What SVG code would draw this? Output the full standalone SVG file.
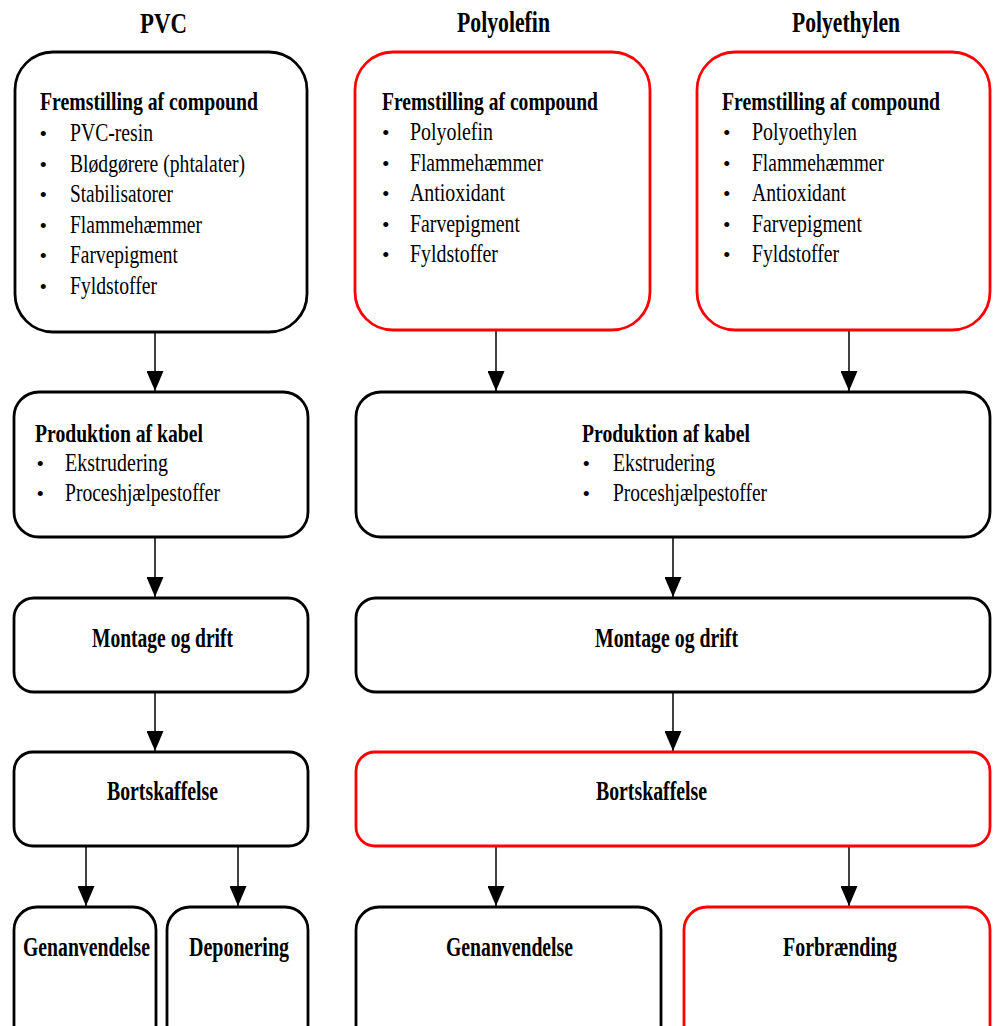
<svg xmlns="http://www.w3.org/2000/svg" width="993" height="1026" viewBox="0 0 993 1026">
  <style>
    text { font-family: "Liberation Serif", "Times New Roman", serif; fill: #000; }
    .title { font-size: 29px; font-weight: bold; }
    .head { font-size: 26px; font-weight: bold; }
    .label { font-size: 27px; font-weight: bold; }
    .item { font-size: 25px; }
    .bullet { font-size: 21.5px; }
    .box { fill: #fff; stroke: #000; stroke-width: 2.8; }
    .red { stroke: #ff0000; }
    .link { stroke: #000; stroke-width: 1.5; fill: none; marker-end: url(#arrow); }
  </style>
  <defs>
    <!-- solid triangular arrowhead, tip at the end of the line -->
    <marker id="arrow" markerUnits="userSpaceOnUse" markerWidth="20" markerHeight="17" viewBox="0 0 20 17" refX="20" refY="8.5" orient="auto">
      <path d="M0,0 L20,8.5 L0,17 Z" fill="#000"/>
    </marker>
  </defs>
  <rect width="993" height="1026" fill="#fff"/>

  <!-- column headings -->
  <g id="headings">
    <text class="title" x="140" y="33" textLength="47" lengthAdjust="spacingAndGlyphs">PVC</text>
    <text class="title" x="457" y="32" textLength="93" lengthAdjust="spacingAndGlyphs">Polyolefin</text>
    <text class="title" x="792" y="32" textLength="108" lengthAdjust="spacingAndGlyphs">Polyethylen</text>
  </g>

  <!-- connectors -->
  <g id="connectors">
    <line class="link" x1="155" y1="333" x2="155" y2="391"/>
    <line class="link" x1="496" y1="331" x2="496" y2="391"/>
    <line class="link" x1="849" y1="331" x2="849" y2="391"/>
    <line class="link" x1="155" y1="538" x2="155" y2="597"/>
    <line class="link" x1="673" y1="538" x2="673" y2="597"/>
    <line class="link" x1="155" y1="693" x2="155" y2="751"/>
    <line class="link" x1="673" y1="693" x2="673" y2="751"/>
    <line class="link" x1="86" y1="847" x2="86" y2="906"/>
    <line class="link" x1="238" y1="847" x2="238" y2="906"/>
    <line class="link" x1="496" y1="847" x2="496" y2="906"/>
    <line class="link" x1="849" y1="847" x2="849" y2="906"/>
  </g>

  <!-- PVC compound -->
  <g id="pvc-compound">
    <rect class="box" x="15" y="52" width="292" height="280" rx="38"/>
    <text class="head" x="40" y="110" textLength="218" lengthAdjust="spacingAndGlyphs">Fremstilling af compound</text>
    <text class="bullet" x="39.5" y="141">•</text>
    <text class="item" x="70" y="141" textLength="83" lengthAdjust="spacingAndGlyphs">PVC-resin</text>
    <text class="bullet" x="39.5" y="171.5">•</text>
    <text class="item" x="70" y="171.5" textLength="175" lengthAdjust="spacingAndGlyphs">Blødgørere (phtalater)</text>
    <text class="bullet" x="39.5" y="202">•</text>
    <text class="item" x="70" y="202" textLength="103" lengthAdjust="spacingAndGlyphs">Stabilisatorer</text>
    <text class="bullet" x="39.5" y="232.5">•</text>
    <text class="item" x="70" y="232.5" textLength="132" lengthAdjust="spacingAndGlyphs">Flammehæmmer</text>
    <text class="bullet" x="39.5" y="263">•</text>
    <text class="item" x="70" y="263" textLength="108" lengthAdjust="spacingAndGlyphs">Farvepigment</text>
    <text class="bullet" x="39.5" y="293.5">•</text>
    <text class="item" x="70" y="293.5" textLength="87" lengthAdjust="spacingAndGlyphs">Fyldstoffer</text>
  </g>

  <!-- Polyolefin compound -->
  <g id="polyolefin-compound">
    <rect class="box red" x="355" y="52" width="295" height="278" rx="38"/>
    <text class="head" x="382" y="110" textLength="216" lengthAdjust="spacingAndGlyphs">Fremstilling af compound</text>
    <text class="bullet" x="382" y="140">•</text>
    <text class="item" x="410" y="140" textLength="83" lengthAdjust="spacingAndGlyphs">Polyolefin</text>
    <text class="bullet" x="382" y="171">•</text>
    <text class="item" x="410" y="171" textLength="133" lengthAdjust="spacingAndGlyphs">Flammehæmmer</text>
    <text class="bullet" x="382" y="201">•</text>
    <text class="item" x="410" y="201" textLength="95" lengthAdjust="spacingAndGlyphs">Antioxidant</text>
    <text class="bullet" x="382" y="232">•</text>
    <text class="item" x="410" y="232" textLength="110" lengthAdjust="spacingAndGlyphs">Farvepigment</text>
    <text class="bullet" x="382" y="262">•</text>
    <text class="item" x="410" y="262" textLength="88" lengthAdjust="spacingAndGlyphs">Fyldstoffer</text>
  </g>

  <!-- Polyethylen compound -->
  <g id="polyethylen-compound">
    <rect class="box red" x="697" y="52" width="293" height="278" rx="38"/>
    <!-- narrowed with a horizontal scale so the heading stays inside the right edge -->
    <text class="head" transform="translate(722 110) scale(0.76 1)" x="0" y="0" textLength="287" lengthAdjust="spacingAndGlyphs">Fremstilling af compound</text>
    <text class="bullet" x="723" y="140">•</text>
    <text class="item" x="752" y="140" textLength="105" lengthAdjust="spacingAndGlyphs">Polyoethylen</text>
    <text class="bullet" x="723" y="171">•</text>
    <text class="item" x="752" y="171" textLength="132" lengthAdjust="spacingAndGlyphs">Flammehæmmer</text>
    <text class="bullet" x="723" y="201">•</text>
    <text class="item" x="752" y="201" textLength="94" lengthAdjust="spacingAndGlyphs">Antioxidant</text>
    <text class="bullet" x="723" y="232">•</text>
    <text class="item" x="752" y="232" textLength="110" lengthAdjust="spacingAndGlyphs">Farvepigment</text>
    <text class="bullet" x="723" y="262">•</text>
    <text class="item" x="752" y="262" textLength="87" lengthAdjust="spacingAndGlyphs">Fyldstoffer</text>
  </g>

  <!-- cable production -->
  <g id="pvc-production">
    <rect class="box" x="14" y="392" width="294" height="145" rx="25"/>
    <text class="head" x="35" y="442" textLength="168" lengthAdjust="spacingAndGlyphs">Produktion af kabel</text>
    <text class="bullet" x="36.5" y="471">•</text>
    <text class="item" x="65" y="471" textLength="103" lengthAdjust="spacingAndGlyphs">Ekstrudering</text>
    <text class="bullet" x="36.5" y="501">•</text>
    <text class="item" x="65" y="501" textLength="155" lengthAdjust="spacingAndGlyphs">Proceshjælpestoffer</text>
  </g>
  <g id="pe-production">
    <rect class="box" x="356" y="392" width="634" height="145" rx="25"/>
    <text class="head" x="582" y="442" textLength="168" lengthAdjust="spacingAndGlyphs">Produktion af kabel</text>
    <text class="bullet" x="582.5" y="471">•</text>
    <text class="item" x="613" y="471" textLength="102" lengthAdjust="spacingAndGlyphs">Ekstrudering</text>
    <text class="bullet" x="582.5" y="501">•</text>
    <text class="item" x="613" y="501" textLength="154" lengthAdjust="spacingAndGlyphs">Proceshjælpestoffer</text>
  </g>

  <!-- installation and use -->
  <g id="pvc-montage">
    <rect class="box" x="14" y="598" width="294" height="94" rx="20"/>
    <text class="label" x="92" y="647" textLength="141" lengthAdjust="spacingAndGlyphs">Montage og drift</text>
  </g>
  <g id="pe-montage">
    <rect class="box" x="356" y="598" width="634" height="94" rx="20"/>
    <text class="label" x="595" y="647" textLength="143" lengthAdjust="spacingAndGlyphs">Montage og drift</text>
  </g>

  <!-- disposal -->
  <g id="pvc-disposal">
    <rect class="box" x="14" y="752" width="294" height="94" rx="19"/>
    <text class="label" x="107" y="800" textLength="111" lengthAdjust="spacingAndGlyphs">Bortskaffelse</text>
  </g>
  <g id="pe-disposal">
    <rect class="box red" x="356" y="752" width="634" height="94" rx="19"/>
    <text class="label" x="596" y="800" textLength="111" lengthAdjust="spacingAndGlyphs">Bortskaffelse</text>
  </g>

  <!-- end of life -->
  <g id="pvc-recycling">
    <rect class="box" x="14" y="907" width="142" height="150" rx="23"/>
    <text class="label" x="23" y="956" textLength="127" lengthAdjust="spacingAndGlyphs">Genanvendelse</text>
  </g>
  <g id="pvc-landfill">
    <rect class="box" x="167" y="907" width="141" height="150" rx="23"/>
    <text class="label" x="189" y="956" textLength="100" lengthAdjust="spacingAndGlyphs">Deponering</text>
  </g>
  <g id="pe-recycling">
    <rect class="box" x="356" y="907" width="305" height="150" rx="23"/>
    <text class="label" x="446" y="956" textLength="127" lengthAdjust="spacingAndGlyphs">Genanvendelse</text>
  </g>
  <g id="pe-incineration">
    <rect class="box red" x="684" y="907" width="306" height="150" rx="23"/>
    <text class="label" x="783" y="956" textLength="114" lengthAdjust="spacingAndGlyphs">Forbrænding</text>
  </g>
</svg>
